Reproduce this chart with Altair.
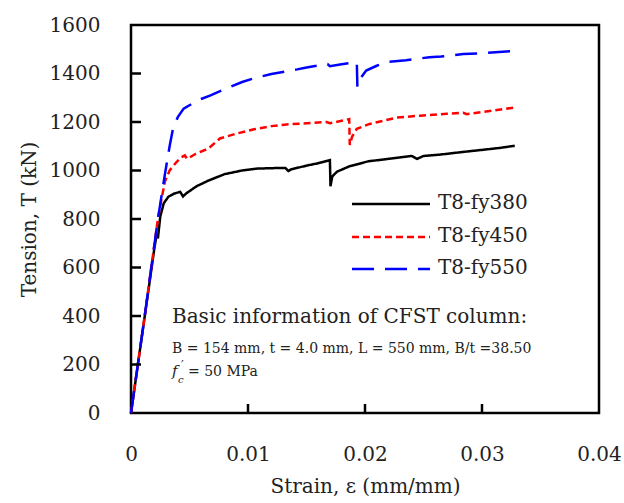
import altair as alt
import pandas as pd

# ---- data ----
series_names = ["T8-fy380", "T8-fy450", "T8-fy550"]
series_colors = ["#000000", "#ff0000", "#0000ff"]
series_dash = [[1, 0], [7, 4], [22, 11]]

strain_380 = [0, 0.0010, 0.0020, 0.0022, 0.0023, 0.0025, 0.0028, 0.0032, 0.0037, 0.0042,
              0.00445, 0.0047, 0.0056, 0.0066, 0.0080, 0.0095, 0.0108, 0.0124, 0.0132,
              0.01345, 0.0137, 0.0150, 0.0160, 0.0170, 0.01705, 0.0172, 0.0176, 0.0187,
              0.0203, 0.0220, 0.0240, 0.02445, 0.0250, 0.0265, 0.0281, 0.0300, 0.0315, 0.0328]
tension_380 = [0, 340, 680, 740, 720, 810, 865, 892, 905, 912,
               893, 905, 935, 958, 985, 1000, 1008, 1010, 1010,
               998, 1005, 1020, 1030, 1043, 935, 975, 995, 1018,
               1038, 1048, 1060, 1048, 1060, 1066, 1075, 1085, 1093, 1102]

strain_450 = [0, 0.0012, 0.0023, 0.0026, 0.0029, 0.0033, 0.0038, 0.0043, 0.0046, 0.0048,
              0.0055, 0.0066, 0.0076, 0.0090, 0.0105, 0.0120, 0.0133, 0.0150, 0.0167,
              0.0170, 0.0180, 0.01865, 0.0187, 0.0189, 0.0193, 0.0204, 0.0227, 0.0247,
              0.0270, 0.0284, 0.0287, 0.0305, 0.0328]
tension_450 = [0, 410, 800, 880, 955, 1000, 1030, 1055, 1062, 1048,
               1068, 1090, 1132, 1152, 1170, 1183, 1190, 1195, 1200,
               1195, 1205, 1212, 1105, 1140, 1172, 1192, 1218, 1226,
               1234, 1238, 1232, 1244, 1260]

strain_550 = [0, 0.0012, 0.0023, 0.0029, 0.0033, 0.0036, 0.0040, 0.0045, 0.0052, 0.0060,
              0.0068, 0.0080, 0.0095, 0.0105, 0.0120, 0.0142, 0.0150, 0.0168, 0.0170,
              0.0180, 0.0193, 0.01935, 0.0196, 0.0201, 0.0210, 0.0219, 0.0235, 0.0255,
              0.0265, 0.0284, 0.0305, 0.0324, 0.0326]
tension_550 = [0, 410, 800, 985, 1100, 1175, 1220, 1255, 1275, 1295,
               1310, 1335, 1365, 1380, 1398, 1417, 1425, 1439, 1430,
               1438, 1447, 1345, 1380, 1412, 1432, 1448, 1455, 1467,
               1470, 1480, 1485, 1492, 1472]

x_ticks = [0, 0.01, 0.02, 0.03, 0.04]
y_ticks = [0, 200, 400, 600, 800, 1000, 1200, 1400, 1600]

info_title = "Basic information of CFST column:"
info_line = "B = 154 mm, t = 4.0 mm, L = 550 mm, B/t =38.50"
fc_value = "= 50 MPa"

FONT = "DejaVu Serif"

rows = []
for name, xs, ys in [(series_names[0], strain_380, tension_380),
                     (series_names[1], strain_450, tension_450),
                     (series_names[2], strain_550, tension_550)]:
    for i, (s, t) in enumerate(zip(xs, ys)):
        rows.append({"series": name, "strain": s, "tension": t, "idx": i})
df = pd.DataFrame(rows)

W, H = 468, 388

xscale = alt.Scale(domain=[0, 0.04], nice=False)
yscale = alt.Scale(domain=[0, 1600], nice=False)

lines = alt.Chart(df).mark_line(strokeWidth=2.5).encode(
    x=alt.X("strain:Q", scale=xscale,
            axis=alt.Axis(values=x_ticks, title="Strain, ε (mm/mm)",
                          labelExpr="datum.value == 0 ? '0' : format(datum.value, '.2f')",
                          grid=False, ticks=False, tickSize=0, domain=False,
                          labelFlush=False, labelOverlap=False,
                          labelPadding=31, titlePadding=12)),
    y=alt.Y("tension:Q", scale=yscale,
            axis=alt.Axis(values=y_ticks, title="Tension, T (kN)", format="d",
                          grid=False, ticks=False, tickSize=0, domain=False,
                          labelFlush=False, labelOverlap=False,
                          labelPadding=31, titlePadding=10)),
    color=alt.Color("series:N", scale=alt.Scale(domain=series_names, range=series_colors), legend=None),
    strokeDash=alt.StrokeDash("series:N", scale=alt.Scale(domain=series_names, range=series_dash), legend=None),
    order="idx:Q",
)

ytick_df = pd.DataFrame({"v": y_ticks[1:-1]})
ytick_marks = alt.Chart(ytick_df).mark_rule(color="black", strokeWidth=2.5).encode(
    y=alt.Y("v:Q", scale=yscale), x=alt.value(0), x2=alt.value(10))
xtick_df = pd.DataFrame({"v": x_ticks[1:-1]})
xtick_marks = alt.Chart(xtick_df).mark_rule(color="black", strokeWidth=2.5).encode(
    x=alt.X("v:Q", scale=xscale), y=alt.value(H), y2=alt.value(H - 9))

one = pd.DataFrame({"a": [0]})

layers = [lines, ytick_marks, xtick_marks]

# manual legend
leg_y = [179, 212, 244]
for name, col, dash, yy in zip(series_names, series_colors, series_dash, leg_y):
    layers.append(alt.Chart(one).mark_rule(color=col, strokeWidth=2.5, strokeDash=dash).encode(
        x=alt.value(221), x2=alt.value(299), y=alt.value(yy)))
    layers.append(alt.Chart(one).mark_text(text=name, font=FONT, fontSize=20, align="left",
                                           baseline="middle", color="#222").encode(
        x=alt.value(307), y=alt.value(yy - 1)))

# annotation text
layers.append(alt.Chart(one).mark_text(text=info_title, font=FONT, fontSize=20, align="left",
                                       baseline="alphabetic", color="#222").encode(
    x=alt.value(41), y=alt.value(298)))
layers.append(alt.Chart(one).mark_text(text=info_line, font=FONT, fontSize=14, align="left",
                                       baseline="alphabetic", color="#222").encode(
    x=alt.value(41), y=alt.value(328)))
layers.append(alt.Chart(one).mark_text(text="f", font=FONT, fontSize=15, fontStyle="italic",
                                       align="left", baseline="alphabetic", color="#222").encode(
    x=alt.value(41), y=alt.value(351)))
layers.append(alt.Chart(one).mark_text(text="c", font=FONT, fontSize=10, fontStyle="italic",
                                       align="left", baseline="alphabetic", color="#222").encode(
    x=alt.value(47), y=alt.value(358)))
layers.append(alt.Chart(one).mark_text(text="′", font=FONT, fontSize=12,
                                       align="left", baseline="alphabetic", color="#222").encode(
    x=alt.value(50), y=alt.value(345)))
layers.append(alt.Chart(one).mark_text(text=fc_value, font=FONT, fontSize=14, align="left",
                                       baseline="alphabetic", color="#222").encode(
    x=alt.value(57), y=alt.value(351)))

chart = alt.layer(*layers).properties(
    width=W, height=H,
    autosize=alt.AutoSizeParams(type="none"),
    padding={"left": 131, "top": 25, "right": 25, "bottom": 90},
).configure_view(
    stroke="black", strokeWidth=2.5
).configure_axis(
    labelFont=FONT, titleFont=FONT, labelFontSize=20, titleFontSize=20,
    labelColor="#222", titleColor="#222", titleFontWeight="normal",
)

chart.save("out.html", embed_options={"renderer": "svg", "actions": False})
